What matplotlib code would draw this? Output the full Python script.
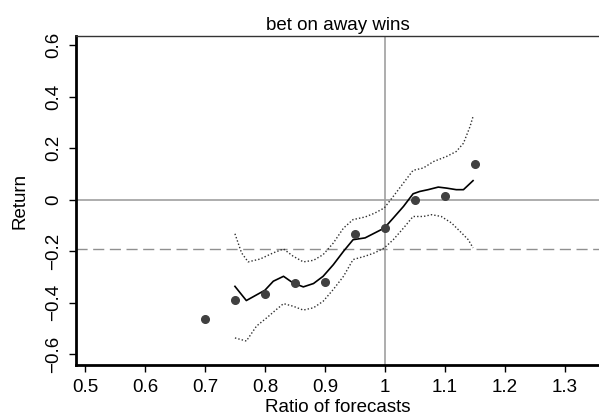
import numpy as np
import matplotlib.pyplot as plt

plt.rcParams['font.family'] = ['Liberation Sans', 'DejaVu Sans']

# observed returns per ratio bin
ratio_pts = [0.70, 0.75, 0.80, 0.85, 0.90, 0.95, 1.00, 1.05, 1.10, 1.15]
return_pts = [-0.461, -0.387, -0.365, -0.324, -0.319, -0.132, -0.110, -0.001, 0.015, 0.139]

# smoothed fit
fit_x = [0.750, 0.769, 0.800, 0.814, 0.831, 0.847, 0.864, 0.881, 0.897, 0.914, 0.931,
         0.947, 0.967, 0.983, 0.999, 1.014, 1.031, 1.047, 1.058, 1.072, 1.089, 1.103,
         1.119, 1.131, 1.147]
fit_y = [-0.336, -0.391, -0.351, -0.316, -0.297, -0.323, -0.338, -0.325, -0.297, -0.252, -0.200,
         -0.155, -0.148, -0.129, -0.110, -0.071, -0.026, 0.023, 0.032, 0.039, 0.049, 0.045,
         0.039, 0.039, 0.074]

# confidence bands
up_x = [0.750, 0.761, 0.772, 0.792, 0.814, 0.831, 0.847, 0.864, 0.881, 0.897, 0.914, 0.931,
        0.947, 0.967, 0.983, 0.999, 1.014, 1.031, 1.047, 1.064, 1.081, 1.103, 1.119, 1.131,
        1.142, 1.147]
up_y = [-0.132, -0.206, -0.241, -0.230, -0.206, -0.191, -0.219, -0.241, -0.235, -0.213, -0.168,
        -0.110, -0.077, -0.067, -0.052, -0.032, 0.013, 0.065, 0.114, 0.123, 0.148, 0.168, 0.187,
        0.219, 0.284, 0.323]
lo_x = [0.750, 0.769, 0.786, 0.803, 0.819, 0.831, 0.847, 0.864, 0.881, 0.897, 0.914, 0.931,
        0.947, 0.967, 0.983, 0.999, 1.014, 1.031, 1.047, 1.064, 1.078, 1.094, 1.111, 1.128,
        1.139, 1.147]
lo_y = [-0.536, -0.548, -0.490, -0.458, -0.426, -0.403, -0.413, -0.428, -0.419, -0.394, -0.348,
        -0.297, -0.232, -0.219, -0.206, -0.187, -0.155, -0.110, -0.065, -0.065, -0.058, -0.065,
        -0.090, -0.129, -0.155, -0.187]

break_even = -0.191

x_ticks = [0.5, 0.6, 0.7, 0.8, 0.9, 1.0, 1.1, 1.2, 1.3]
x_labels = ['0.5', '0.6', '0.7', '0.8', '0.9', '1', '1.1', '1.2', '1.3']
y_ticks = [-0.6, -0.4, -0.2, 0, 0.2, 0.4, 0.6]
y_labels = ['\u22120.6', '\u22120.4', '\u22120.2', '0', '0.2', '0.4', '0.6']

fig = plt.figure(figsize=(5.99, 4.19), dpi=100)
ax = fig.add_axes([76 / 599, 1 - 365 / 419, 523 / 599, 329 / 419])

ax.axhline(0, color='#a0a0a0', lw=1.2, zorder=1)
ax.axvline(1.0, color='#a0a0a0', lw=1.2, zorder=1)
ax.axhline(break_even, color='#909090', lw=1.0, ls=(0, (8, 4)), zorder=1)

ax.plot(up_x, up_y, color='#303030', lw=1.0, ls=(0, (1, 1.5)))
ax.plot(lo_x, lo_y, color='#303030', lw=1.0, ls=(0, (1, 1.5)))
ax.plot(fit_x, fit_y, color='black', lw=1.2)
ax.plot(ratio_pts, return_pts, 'o', color='#404040', ms=5.5, zorder=5)

ax.set_xlim(0.485, 1.357)
ax.set_ylim(-0.641, 0.635)
ax.set_xticks(x_ticks)
ax.set_xticklabels(x_labels)
ax.set_yticks(y_ticks)
ax.set_yticklabels(y_labels, rotation=90, va='center')

ax.spines['right'].set_visible(False)
ax.spines['top'].set_linewidth(1.0)
ax.spines['top'].set_color('#333333')
ax.spines['left'].set_linewidth(2.0)
ax.spines['bottom'].set_linewidth(2.0)
ax.tick_params(direction='out', length=5, width=1, labelsize=13.5)
ax.tick_params(axis='x', pad=5)
ax.tick_params(axis='y', pad=5)

ax.set_title('bet on away wins', fontsize=13.5, pad=4)
ax.set_xlabel('Ratio of forecasts', fontsize=13.5, labelpad=2)
ax.set_ylabel('Return', fontsize=13.5, labelpad=12)

fig.savefig('out.png', dpi=100)
